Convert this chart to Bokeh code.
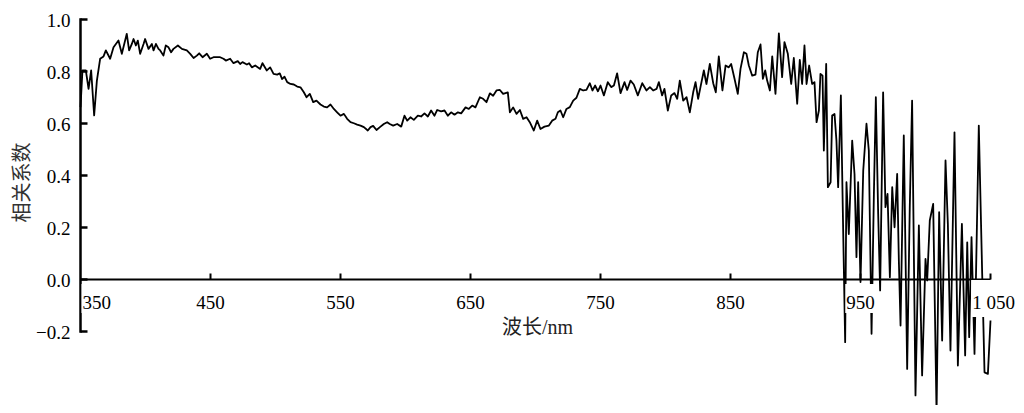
import math
from bokeh.plotting import figure
from bokeh.models import ColumnDataSource, Range1d
from bokeh.core.properties import value
from bokeh.embed import file_html
from bokeh.resources import INLINE

# ---------------- data ----------------
wavelength = [
    350.0, 351.5, 354.1, 356.2, 358.2, 360.5, 362.6, 365.1, 367.7, 369.5,
    372.8, 375.4, 379.2, 381.8, 385.6, 387.4, 389.5, 390.8, 392.6, 394.1,
    395.9, 398.5, 399.7, 402.3, 404.9, 406.2, 408.0, 410.0, 411.3, 413.8,
    415.6, 417.7, 419.7, 421.5, 424.9, 428.0, 431.8, 434.4, 437.0, 439.5,
    441.3, 443.9, 447.2, 449.7, 452.3, 457.4, 460.0, 461.8, 465.1, 467.7,
    471.0, 472.8, 474.6, 478.0, 479.7, 481.8, 484.4, 488.2, 490.0, 493.3,
    495.9, 498.5, 501.3, 503.3, 505.1, 506.9, 509.0, 511.5, 514.1, 516.7,
    519.2, 521.8, 523.9, 526.4, 529.0, 531.5, 534.6, 537.2, 539.7, 542.3,
    544.9, 547.4, 550.0, 552.6, 555.1, 557.7, 560.3, 562.8, 565.4, 568.0,
    571.0, 573.1, 575.1, 577.7, 580.3, 583.3, 585.9, 587.9, 590.5, 593.6,
    596.7, 599.2, 601.3, 603.8, 606.4, 609.5, 612.0, 614.6, 617.2, 619.7,
    622.3, 624.4, 627.4, 630.0, 632.6, 635.1, 637.7, 640.3, 642.8, 646.2,
    648.7, 651.3, 653.8, 657.2, 659.7, 662.3, 664.9, 667.4, 670.0, 672.6,
    675.1, 678.7, 680.3, 682.8, 685.4, 688.0, 690.5, 693.1, 695.6, 698.7,
    701.3, 703.8, 706.9, 710.3, 712.8, 715.4, 717.2, 719.2, 721.3, 723.8,
    726.4, 729.0, 731.5, 734.1, 736.7, 739.2, 741.8, 743.8, 745.9, 748.0,
    750.0, 752.6, 755.6, 758.2, 760.3, 762.8, 765.4, 768.5, 770.5, 773.1,
    775.6, 778.7, 782.1, 785.4, 788.0, 790.5, 793.1, 794.9, 797.4, 799.2,
    801.8, 804.4, 806.9, 809.0, 811.0, 813.6, 816.2, 818.7, 821.3, 823.1,
    825.1, 826.9, 829.5, 831.5, 834.1, 836.7, 838.7, 841.0, 843.8, 846.2,
    848.7, 850.5, 853.1, 855.6, 857.7, 860.3, 862.3, 864.1, 866.7, 869.2,
    871.0, 873.1, 874.9, 876.7, 878.2, 880.3, 882.1, 884.6, 887.2, 889.7,
    891.5, 894.1, 896.7, 898.7, 901.3, 903.3, 905.1, 906.9, 908.5, 910.5,
    912.8, 914.6, 916.2, 918.0, 919.2, 920.8, 921.8, 923.6, 924.9, 927.0,
    928.2, 930.0, 931.5, 932.8, 934.9, 936.4, 938.2, 939.2, 941.0, 943.6,
    945.4, 946.9, 948.2, 950.0, 952.1, 954.6, 956.4, 958.5, 960.3, 961.8,
    963.6, 965.1, 967.4, 969.2, 970.8, 972.6, 974.4, 976.2, 978.2, 979.5,
    980.8, 983.3, 985.9, 987.9, 989.7, 992.3, 994.9, 997.4, 1000.0, 1001.3,
    1003.3, 1005.9, 1008.5, 1010.5, 1012.8, 1015.4, 1017.2, 1019.2, 1022.3, 1024.9,
    1028.0, 1030.5, 1032.1, 1033.6, 1035.4, 1037.7, 1041.0, 1043.6, 1045.4, 1048.0,
    1050.0,
]
correlation = [
    0.663, 0.804, 0.804, 0.733, 0.804, 0.631, 0.765, 0.849, 0.858, 0.881,
    0.849, 0.893, 0.919, 0.868, 0.945, 0.881, 0.906, 0.925, 0.900, 0.919,
    0.868, 0.906, 0.925, 0.887, 0.906, 0.881, 0.906, 0.887, 0.881, 0.861,
    0.900, 0.893, 0.874, 0.887, 0.900, 0.887, 0.881, 0.868, 0.852, 0.861,
    0.870, 0.855, 0.868, 0.849, 0.855, 0.855, 0.849, 0.842, 0.849, 0.832,
    0.840, 0.829, 0.836, 0.827, 0.832, 0.816, 0.823, 0.810, 0.832, 0.804,
    0.816, 0.791, 0.788, 0.793, 0.771, 0.780, 0.759, 0.752, 0.750, 0.742,
    0.739, 0.720, 0.701, 0.714, 0.682, 0.688, 0.673, 0.665, 0.662, 0.673,
    0.656, 0.643, 0.630, 0.637, 0.618, 0.605, 0.601, 0.596, 0.592, 0.586,
    0.573, 0.586, 0.591, 0.575, 0.586, 0.598, 0.605, 0.598, 0.592, 0.598,
    0.588, 0.630, 0.611, 0.624, 0.614, 0.630, 0.627, 0.639, 0.627, 0.650,
    0.630, 0.652, 0.647, 0.650, 0.630, 0.643, 0.634, 0.643, 0.639, 0.662,
    0.656, 0.669, 0.662, 0.701, 0.695, 0.682, 0.716, 0.707, 0.727, 0.729,
    0.714, 0.720, 0.643, 0.662, 0.637, 0.652, 0.618, 0.624, 0.605, 0.573,
    0.611, 0.579, 0.588, 0.592, 0.611, 0.618, 0.643, 0.650, 0.624, 0.656,
    0.663, 0.688, 0.699, 0.733, 0.727, 0.729, 0.755, 0.727, 0.746, 0.724,
    0.746, 0.708, 0.759, 0.740, 0.746, 0.793, 0.717, 0.759, 0.729, 0.765,
    0.750, 0.708, 0.755, 0.727, 0.740, 0.727, 0.733, 0.759, 0.708, 0.733,
    0.650, 0.708, 0.717, 0.695, 0.765, 0.688, 0.701, 0.643, 0.720, 0.759,
    0.695, 0.740, 0.804, 0.752, 0.829, 0.755, 0.720, 0.858, 0.727, 0.823,
    0.816, 0.829, 0.772, 0.714, 0.810, 0.874, 0.868, 0.823, 0.784, 0.788,
    0.874, 0.904, 0.772, 0.804, 0.765, 0.727, 0.858, 0.714, 0.947, 0.778,
    0.913, 0.868, 0.752, 0.852, 0.676, 0.845, 0.752, 0.900, 0.752, 0.823,
    0.752, 0.759, 0.605, 0.650, 0.791, 0.784, 0.496, 0.829, 0.355, 0.374,
    0.631, 0.637, 0.534, 0.355, 0.708, 0.265, -0.241, 0.374, 0.175, 0.534,
    0.406, 0.086, 0.374, -0.010, 0.419, 0.599, 0.496, -0.209, 0.329, 0.701,
    0.252, -0.042, 0.720, 0.278, 0.329, 0.009, 0.355, 0.201, 0.406, 0.073,
    -0.177, 0.554, -0.344, 0.278, 0.688, -0.446, 0.208, -0.369, 0.079, -0.004,
    0.227, 0.291, -0.514, 0.259, -0.235, 0.458, 0.214, -0.273, 0.566, -0.331,
    0.214, -0.292, 0.143, -0.222, 0.163, -0.286, 0.592, 0.022, -0.357, -0.363,
    -0.158,
]

x_ticks = [350, 450, 550, 650, 750, 850, 950, 1050]
x_tick_labels = ["350", "450", "550", "650", "750", "850", "950", "1 050"]
y_ticks = [-0.2, 0.0, 0.2, 0.4, 0.6, 0.8, 1.0]
y_tick_labels = ["\u22120.2", "0.0", "0.2", "0.4", "0.6", "0.8", "1.0"]
x_title = "波长/nm"
y_title = "相关系数"

# ---------------- styling / layout ----------------
SERIF = "Liberation Serif"
CJK = "Noto Sans CJK SC"
W, H = 1016, 405
AXIS_X_PX = 80                 # x = 350 position from figure left
ZERO_PX = 279                  # y = 0 position from figure top
PX_PER_NM = 1.3
PX_PER_UNIT = 260.0

x0 = x_ticks[0]
p = figure(width=W, height=H, output_backend="svg", toolbar_location=None,
           title=None,
           x_range=Range1d(x0 - AXIS_X_PX / PX_PER_NM, x0 + (W - AXIS_X_PX) / PX_PER_NM),
           y_range=Range1d(-(H - ZERO_PX) / PX_PER_UNIT, ZERO_PX / PX_PER_UNIT),
           x_axis_location=None, y_axis_location=None,
           min_border_left=0, min_border_right=0, min_border_top=0, min_border_bottom=0)
p.outline_line_color = None
p.grid.visible = False
p.background_fill_color = "white"
p.border_fill_color = "white"

dx = 1.0 / PX_PER_NM     # data units per screen pixel, horizontal
dy = 1.0 / PX_PER_UNIT   # data units per screen pixel, vertical

# data line
src = ColumnDataSource(data=dict(x=wavelength, y=correlation))
p.line("x", "y", source=src, line_color="black", line_width=1.8, line_join="round")

# ----- y axis (at x = 350) -----
p.segment(x0=[x0], y0=[y_ticks[0]], x1=[x0], y1=[y_ticks[-1]],
          line_color="black", line_width=2.5, line_cap="square")
p.segment(x0=[x0] * len(y_ticks), y0=y_ticks, x1=[x0 + 7 * dx] * len(y_ticks), y1=y_ticks,
          line_color="black", line_width=2.5)
p.text(x=[x0] * len(y_ticks), y=y_ticks, text=y_tick_labels, x_offset=-10, y_offset=1,
       text_align="right", text_baseline="middle",
       text_font=value(SERIF), text_font_size="19px", text_color="black")
p.text(x=[x0], y=[(y_ticks[0] + y_ticks[-1]) / 2], text=[y_title],
       x_offset=-60, y_offset=7, angle=math.pi / 2,
       text_align="center", text_baseline="middle",
       text_font=value(CJK), text_font_size="20px", text_color="#333333")

# ----- x axis (at y = 0) -----
p.segment(x0=[x_ticks[0]], y0=[0], x1=[x_ticks[-1]], y1=[0],
          line_color="black", line_width=2)
p.segment(x0=x_ticks[1:], y0=[0] * (len(x_ticks) - 1), x1=x_ticks[1:],
          y1=[6 * dy] * (len(x_ticks) - 1), line_color="black", line_width=2)

offsets = [0] * len(x_ticks)
offsets[0] = 1
offsets[-1] = 3
aligns = ["center"] * len(x_ticks)
aligns[0] = "left"
lab_src = ColumnDataSource(data=dict(x=x_ticks, y=[0] * len(x_ticks),
                                     text=x_tick_labels, xo=offsets, al=aligns))
p.text("x", "y", text="text", source=lab_src, x_offset="xo", y_offset=19,
       text_align="al", text_baseline="alphabetic",
       text_font=value(SERIF), text_font_size="19px", text_color="black",
       background_fill_color="white",
       padding=dict(left=1, right=1, top=12, bottom=4))

p.text(x=[(x_ticks[0] + x_ticks[-1]) / 2], y=[0], text=[x_title],
       x_offset=2, y_offset=47, text_align="center", text_baseline="middle",
       text_font=value(SERIF + ", " + CJK), text_font_size="20px",
       text_color="#222222")

open("out.html", "w").write(file_html(p, INLINE))
